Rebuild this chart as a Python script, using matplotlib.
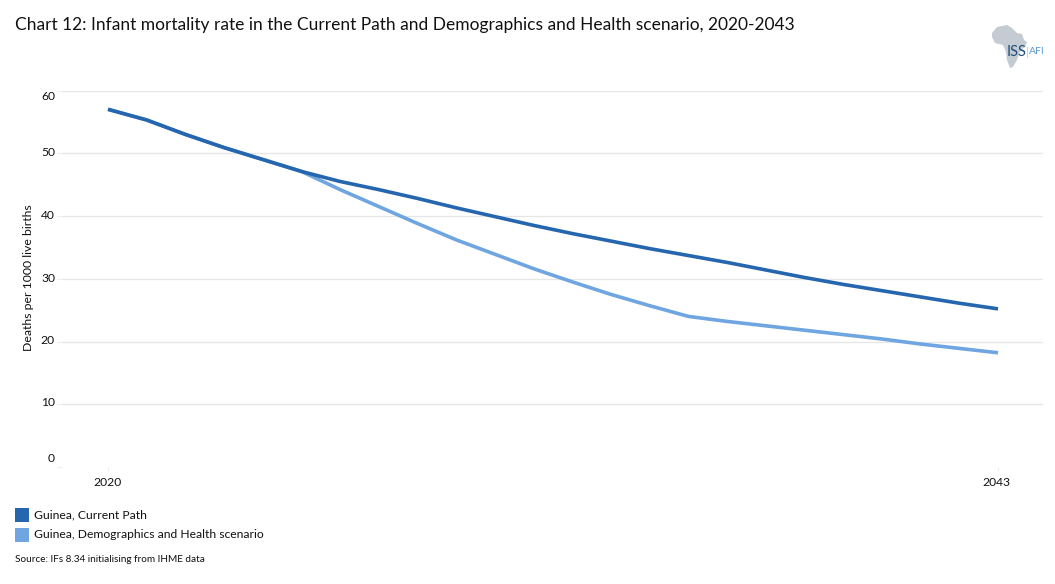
import numpy as np
import matplotlib
matplotlib.use("Agg")
import matplotlib.pyplot as plt
from matplotlib.patches import Polygon, Rectangle

plt.rcParams['font.family'] = ['Lato', 'DejaVu Sans']

##data
years = list(range(2020, 2044))
current_path = [57.0, 55.3, 53.0, 50.9, 49.0, 47.1, 45.5, 44.2, 42.8, 41.3, 39.9, 38.5,
                37.2, 36.0, 34.8, 33.7, 32.6, 31.4, 30.2, 29.1, 28.1, 27.1, 26.1, 25.2]
dem_health = [57.0, 55.3, 53.0, 50.9, 49.0, 47.1, 44.2, 41.5, 38.8, 36.2, 33.9, 31.6,
              29.5, 27.5, 25.7, 24.0, 23.2, 22.5, 21.8, 21.1, 20.4, 19.6, 18.9, 18.2]
y_ticks = [0, 10, 20, 30, 40, 50, 60]
x_ticks = [2020, 2043]
legend_names = ['Guinea, Current Path', 'Guinea, Demographics and Health scenario']
colors = ['#2566AE', '#6FA5E0']

W, H = 1055, 584
fig = plt.figure(figsize=(W / 100, H / 100), dpi=100)
txt = '#111111'

##axes box is set so gridlines land where they do in the picture
left, right, top, bottom = 62, 1042.5, 90.5, 467
ax = fig.add_axes([left / W, 1 - bottom / H, (right - left) / W, (bottom - top) / H])
px_year = (998 - 108) / 23
ax.set_xlim(2020 - (108 - left) / px_year, 2043 + (right - 998) / px_year)
ax.set_ylim(0, 60)

ax.plot(years, dem_health, color=colors[1], lw=2.6, solid_capstyle='butt')
ax.plot(years, current_path, color=colors[0], lw=2.6, solid_capstyle='butt')

ax.set_yticks(y_ticks)
ax.set_xticks(x_ticks)
ax.grid(axis='y', color='#E6E6E6', lw=0.9)
ax.get_ygridlines()[0].set_visible(False) #no line at zero, only the tick
ax.set_axisbelow(True)
for s in ax.spines.values():
    s.set_visible(False)
ax.tick_params(axis='y', length=3.6, width=0.8, color='#EEEEEE', labelleft=False)
ax.tick_params(axis='x', length=3, width=0.8, color='#EEEEEE', labelbottom=False)

##tick labels sit by hand, the top and bottom ones are pulled inside the plot
y_label_px = [459, 403, 341, 279, 216, 153, 97]
for v, y in zip(y_ticks, y_label_px):
    fig.text(55 / W, 1 - y / H, str(v), fontsize=8.7, color=txt, ha='right', va='center')
for v, x in zip(x_ticks, [108, 996]):
    fig.text(x / W, 1 - 482 / H, str(v), fontsize=8.7, color=txt, ha='center', va='center')
fig.text(28 / W, 1 - 277.5 / H, 'Deaths per 1000 live births', fontsize=8.8, color=txt,
         rotation=90, ha='center', va='center')

##text outside the axes
fig.text(15 / W, 1 - 25 / H, 'Chart 12: Infant mortality rate in the Current Path and Demographics and Health scenario, 2020-2043',
         fontsize=12.5, color=txt, va='center')
fig.text(15 / W, 1 - 560 / H, 'Source: IFs 8.34 initialising from IHME data', fontsize=7.2, color=txt, va='center')

##legend
for name, c, y in zip(legend_names, colors, [515, 535]):
    fig.add_artist(Rectangle((15 / W, 1 - (y + 7) / H), 14 / W, 14 / H, color=c, lw=0, transform=fig.transFigure))
    fig.text(34 / W, 1 - y / H, name, fontsize=8.7, color=txt, va='center')

##logo
africa = [(992, 33), (997, 27), (1007, 25), (1012, 28), (1017, 33), (1022, 34), (1024, 40), (1027, 42), (1025, 47),
          (1021, 50), (1018, 57), (1017, 60), (1013, 67), (1010, 68), (1007, 60), (1006, 52), (1003, 45), (995, 43), (992, 37)]
fig.add_artist(Polygon([(x / W, 1 - y / H) for x, y in africa], closed=True, color='#C5CBD3', lw=0, transform=fig.transFigure))
fig.text(1007 / W, 1 - 52 / H, 'ISS', fontsize=10.5, color='#1F4E79', va='center')
fig.text(1027 / W, 1 - 52 / H, '|', fontsize=8, color='#B5CBDD', va='center', ha='center')
fig.text(1029 / W, 1 - 52 / H, 'AFI', fontsize=7.5, color='#5B9BD5', va='center')

fig.savefig('out.png', dpi=100)
